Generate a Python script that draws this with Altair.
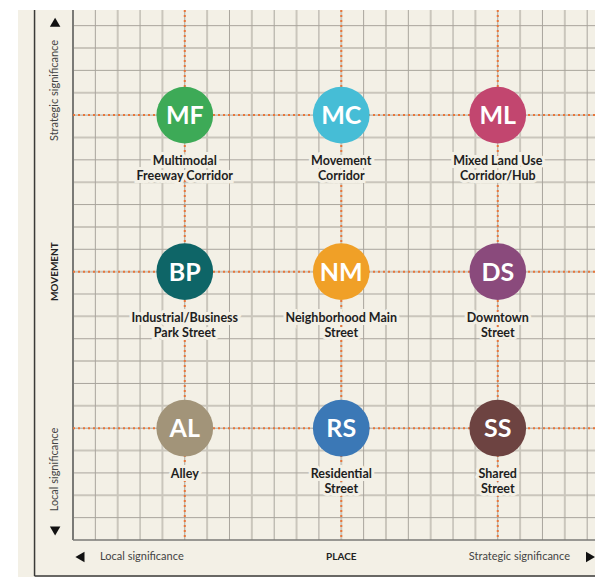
import altair as alt
import pandas as pd

# ---- data ----
codes = ["MF", "MC", "ML", "BP", "NM", "DS", "AL", "RS", "SS"]
names = [
    "Multimodal\nFreeway Corridor",
    "Movement\nCorridor",
    "Mixed Land Use\nCorridor/Hub",
    "Industrial/Business\nPark Street",
    "Neighborhood Main\nStreet",
    "Downtown\nStreet",
    "Alley",
    "Residential\nStreet",
    "Shared\nStreet",
]
place = [5, 12, 19, 5, 12, 19, 5, 12, 19]       # grid units
movement = [19, 19, 19, 12, 12, 12, 5, 5, 5]    # grid units
colors = ["#3daa57", "#46bdd6", "#c2466f", "#0e6567", "#f0a027",
          "#8a4a7c", "#a29479", "#3b78b6", "#6d4341"]

guide_levels = [5, 12, 19]
grid_lines = list(range(1, 24))

XMAX, YMAX = 23.35, 23.70
CREAM = "#f3f0e6"

xs = alt.Scale(domain=[0, XMAX], nice=False, zero=False)
ys = alt.Scale(domain=[0, YMAX], nice=False, zero=False)

def X(f="x"):
    return alt.X(f"{f}:Q", scale=xs, axis=None)

def Y(f="y"):
    return alt.Y(f"{f}:Q", scale=ys, axis=None)

df = pd.DataFrame({"code": codes, "name": names, "x": place, "y": movement, "color": colors})
grid = pd.DataFrame({"v": grid_lines, "odd": [v % 2 == 1 for v in grid_lines]})

# background panel
bg = alt.Chart(pd.DataFrame({"x": [-2.46], "x2": [XMAX], "y": [-2.10], "y2": [YMAX]})).mark_rect(
    color=CREAM).encode(x=X(), x2="x2:Q", y=Y(), y2="y2:Q")

grid_odd = grid[grid.odd]
grid_even = grid[~grid.odd]
vg1 = alt.Chart(grid_odd).mark_rule(color="#a9a59d", strokeWidth=1).encode(x=X("v"))
vg2 = alt.Chart(grid_even).mark_rule(color="#cac6bc", strokeWidth=2).encode(x=X("v"))
hg1 = alt.Chart(grid_odd).mark_rule(color="#a9a59d", strokeWidth=1).encode(y=Y("v"))
hg2 = alt.Chart(grid_even).mark_rule(color="#cac6bc", strokeWidth=2).encode(y=Y("v"))
border_v = alt.Chart(pd.DataFrame({"v": [0]})).mark_rule(color="#7a7a76", strokeWidth=2).encode(x=X("v"))
border_h = alt.Chart(pd.DataFrame({"v": [0]})).mark_rule(color="#7a7a76", strokeWidth=1.5).encode(y=Y("v"))

gl = pd.DataFrame({"v": guide_levels})
dot_v = alt.Chart(gl).mark_rule(color="#e8763a", strokeWidth=2, strokeDash=[2, 3]).encode(x=X("v"))
dot_h = alt.Chart(gl).mark_rule(color="#e8763a", strokeWidth=2, strokeDash=[2, 3]).encode(y=Y("v"))

frame_v = alt.Chart(pd.DataFrame({"x": [-1.72], "y": [-1.61], "y2": [YMAX]})).mark_rule(
    color="#3a3a38", strokeWidth=1.5).encode(x=X(), y=Y(), y2="y2:Q")
frame_h = alt.Chart(pd.DataFrame({"x": [-1.72], "x2": [XMAX], "y": [-1.61]})).mark_rule(
    color="#3a3a38", strokeWidth=1.5).encode(x=X(), x2="x2:Q", y=Y())

circles = alt.Chart(df).mark_circle(size=3217, opacity=1).encode(
    x=X(), y=Y(), color=alt.Color("color:N", scale=None))
codes_txt = alt.Chart(df).mark_text(
    font="Lato", fontWeight="bold", fontSize=25, color="white", baseline="middle", dy=1
).encode(x=X(), y=Y(), text="code:N")

label_halo = alt.Chart(df).mark_text(
    font="Lato", fontWeight="bold", fontSize=12.5, lineBreak="\n", lineHeight=15,
    baseline="top", dy=40, color=CREAM, stroke=CREAM, strokeWidth=6
).encode(x=X(), y=Y(), text="name:N")
label_txt = alt.Chart(df).mark_text(
    font="Lato", fontWeight="bold", fontSize=12.5, lineBreak="\n", lineHeight=15,
    baseline="top", dy=40, color="#1e1e1e"
).encode(x=X(), y=Y(), text="name:N")

# axis annotations
side_labels = pd.DataFrame({
    "x": [-0.80, -0.80, -0.80],
    "y": [20.1, 12.0, 3.15],
    "t": ["Strategic significance", "MOVEMENT", "Local significance"],
    "w": ["normal", "bold", "normal"],
})
side_norm = alt.Chart(side_labels[side_labels.w == "normal"]).mark_text(
    font="Lato", fontSize=11, angle=270, color="#444444", baseline="middle"
).encode(x=X(), y=Y(), text="t:N")
side_bold = alt.Chart(side_labels[side_labels.w == "bold"]).mark_text(
    font="Lato", fontSize=10, fontWeight="bold", angle=270, color="#222222", baseline="middle"
).encode(x=X(), y=Y(), text="t:N")

bottom_left = alt.Chart(pd.DataFrame({"x": [1.21], "y": [-0.76], "t": ["Local significance"]})).mark_text(
    font="Lato", fontSize=11, color="#444444", align="left", baseline="middle"
).encode(x=X(), y=Y(), text="t:N")
bottom_mid = alt.Chart(pd.DataFrame({"x": [12.0], "y": [-0.76], "t": ["PLACE"]})).mark_text(
    font="Lato", fontSize=10, fontWeight="bold", color="#222222", baseline="middle"
).encode(x=X(), y=Y(), text="t:N")
bottom_right = alt.Chart(pd.DataFrame({"x": [22.23], "y": [-0.76], "t": ["Strategic significance"]})).mark_text(
    font="Lato", fontSize=11, color="#444444", align="right", baseline="middle"
).encode(x=X(), y=Y(), text="t:N")

arrows = pd.DataFrame({
    "x": [-0.80, -0.80, 0.31, 23.15],
    "y": [23.15, 0.40, -0.76, -0.76],
    "shape": ["triangle-up", "triangle-down", "triangle-left", "triangle-right"],
})
arrow_marks = alt.Chart(arrows).mark_point(filled=True, color="#111111", size=110, opacity=1).encode(
    x=X(), y=Y(), shape=alt.Shape("shape:N", scale=None))

chart = alt.layer(
    bg, vg2, hg2, vg1, hg1, border_v, border_h, dot_v, dot_h, frame_v, frame_h,
    circles, codes_txt, label_halo, label_txt,
    side_norm, side_bold, bottom_left, bottom_mid, bottom_right, arrow_marks
).properties(
    width=522, height=530, background="white",
    autosize=alt.AutoSizeParams(type="none"),
    padding={"left": 65, "top": 2, "right": 0, "bottom": 37},
).configure_view(stroke=None)

chart.save("out.html", embed_options={"renderer": "svg", "actions": False})
